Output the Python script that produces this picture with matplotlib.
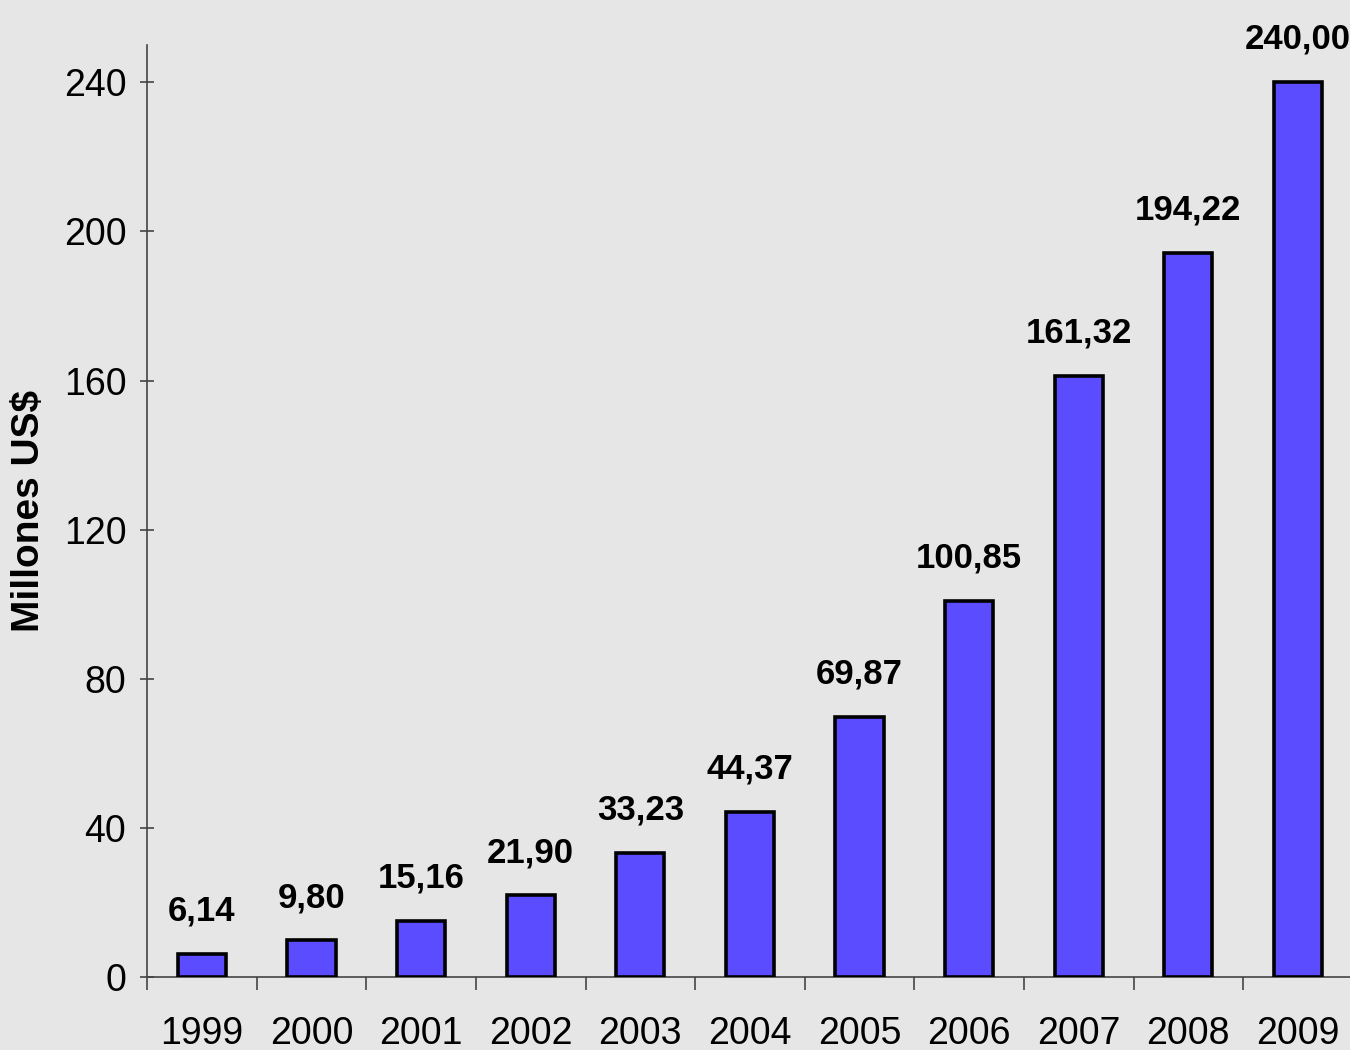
import numpy as np
import matplotlib.pyplot as plt
from matplotlib.ticker import FixedLocator

years = ['1999', '2000', '2001', '2002', '2003', '2004',
         '2005', '2006', '2007', '2008', '2009']
values = [6.14, 9.80, 15.16, 21.90, 33.23, 44.37,
          69.87, 100.85, 161.32, 194.22, 240.00]
labels = ['6,14', '9,80', '15,16', '21,90', '33,23', '44,37',
          '69,87', '100,85', '161,32', '194,22', '240,00']
yticks = [0, 40, 80, 120, 160, 200, 240]

fam = ['Liberation Sans', 'DejaVu Sans']
bg = '#e6e6e6'

fig = plt.figure(figsize=(13.5, 10.5), dpi=100, facecolor=bg)
ax = fig.add_axes([0.109, 0.0695, 0.893, 0.8876], facecolor=bg)

x = np.arange(len(years))
ax.bar(x, values, width=0.44, color='#5b4dff', edgecolor='black',
       linewidth=2.6, zorder=3)

for xi, v, lab in zip(x, values, labels):
    ax.annotate(lab, (xi, v), xytext=(0, 24), textcoords='offset points',
                ha='center', va='baseline', fontsize=25, fontweight='bold',
                family=fam)

ax.set_xlim(-0.5, len(years) - 0.5)
ax.set_ylim(0, 250)

# year labels at bar centres, tick marks at category boundaries
ax.set_xticks(x)
ax.set_xticklabels(years, family=fam, fontsize=27)
ax.tick_params(axis='x', which='major', length=0, pad=28)
ax.xaxis.set_minor_locator(FixedLocator(np.arange(-0.5, len(years), 1)))
ax.tick_params(axis='x', which='minor', direction='out', length=9,
               width=1.2, color='#444444')

ax.set_yticks(yticks)
ax.set_yticklabels([str(t) for t in yticks], family=fam, fontsize=27)
ax.tick_params(axis='y', direction='inout', length=10, width=1.2,
               color='#444444', pad=10)

ax.set_ylabel('Millones US$', fontsize=28, fontweight='bold', family=fam)
ax.yaxis.set_label_coords(-0.083, 0.5)

for s in ['top', 'right']:
    ax.spines[s].set_visible(False)
for s in ['left', 'bottom']:
    ax.spines[s].set_color('#444444')
    ax.spines[s].set_linewidth(1.2)

fig.savefig('out.png', dpi=100, facecolor=bg)
